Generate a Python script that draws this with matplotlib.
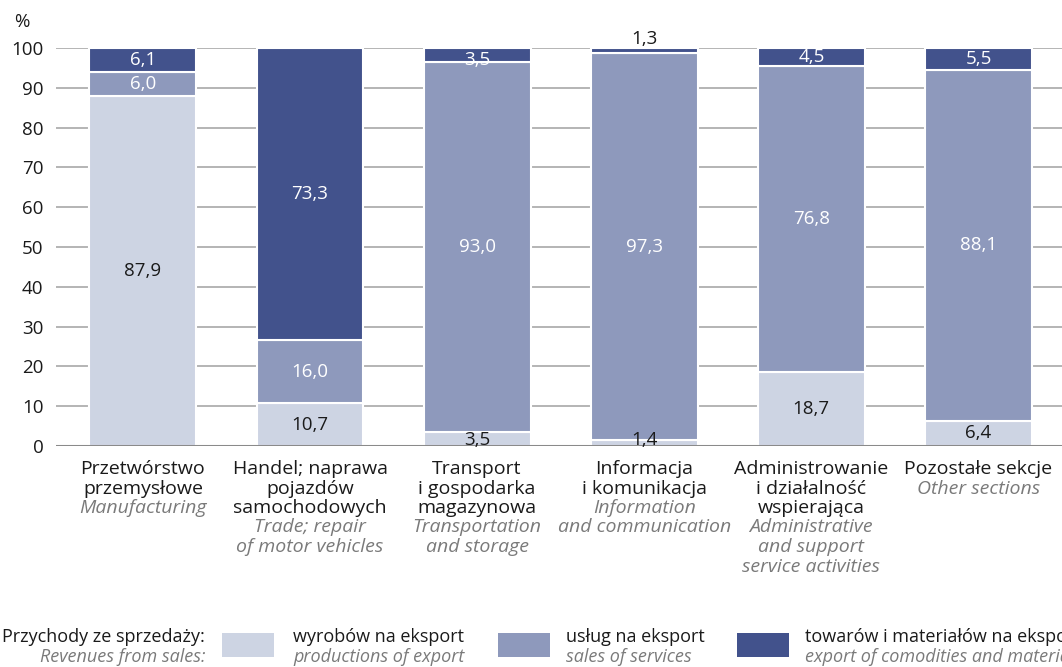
import matplotlib
matplotlib.use("Agg")
import matplotlib.pyplot as plt
from matplotlib.patches import Rectangle
import numpy as np

plt.rcParams['font.family'] = ['Open Sans', 'DejaVu Sans']

categories_pl = ["Przetwórstwo\nprzemysłowe", "Handel; naprawa\npojazdów\nsamochodowych",
                 "Transport\ni gospodarka\nmagazynowa", "Informacja\ni komunikacja",
                 "Administrowanie\ni działalność\nwspierająca", "Pozostałe sekcje"]
categories_en = ["Manufacturing", "Trade; repair\nof motor vehicles",
                 "Transportation\nand storage", "Information\nand communication",
                 "Administrative\nand support\nservice activities", "Other sections"]

products = [87.9, 10.7, 3.5, 1.4, 18.7, 6.4]
services = [6.0, 16.0, 93.0, 97.3, 76.8, 88.1]
goods = [6.1, 73.3, 3.5, 1.3, 4.5, 5.5]

yticks = [0, 10, 20, 30, 40, 50, 60, 70, 80, 90, 100]

series_pl = ["wyrobów na eksport", "usług na eksport", "towarów i materiałów na eksport"]
series_en = ["productions of export", "sales of services", "export of comodities and materials"]
legend_title_pl = "Przychody ze sprzedaży:"
legend_title_en = "Revenues from sales:"

c_light = "#CDD4E3"
c_mid = "#8E99BC"
c_dark = "#42528C"
colors = [c_light, c_mid, c_dark]

W, H = 1062, 667
fig = plt.figure(figsize=(W / 100, H / 100), dpi=100)
ax_left, ax_right, ax_bottom, ax_top = 56, 1062, 446, 48
ax = fig.add_axes([ax_left / W, 1 - ax_bottom / H, (ax_right - ax_left) / W, (ax_bottom - ax_top) / H])

x = np.arange(len(products))
bw = 0.64
ax.set_xlim(-0.52, 5.50)
ax.set_ylim(0, 100)

for y in yticks[1:]:
    ax.axhline(y, color="#A8A8A8", lw=1.2, zorder=0)

bottoms = np.zeros(len(products))
for vals, col in zip([products, services, goods], colors):
    ax.bar(x, vals, bw, bottom=bottoms, color=col, edgecolor="white", linewidth=1.5, zorder=2)
    bottoms = bottoms + np.array(vals)

def fmt(v):
    return f"{v:.1f}".replace(".", ",")

fs_val = 13.5
b = np.zeros(len(products))
for si, vals in enumerate([products, services, goods]):
    for i, v in enumerate(vals):
        yc = b[i] + v / 2
        col = "#1a1a1a" if si == 0 else "white"
        if si == 2 and v < 2:
            yc = 102.3
            col = "#1a1a1a"
        elif si == 2 and v < 4:
            yc = b[i] + v / 2 - 1.2
        if si == 0 and v < 4:
            yc = 1.4
        ax.text(i, yc, fmt(v), ha="center", va="center", fontsize=fs_val, color=col, zorder=5, clip_on=False)
    b = b + np.array(vals)

ax.axhline(0, color="#8A8A8A", lw=2.2, zorder=3)

ax.set_yticks(yticks)
ax.set_yticklabels([str(t) for t in yticks], fontsize=13.5, color="#1a1a1a")
ax.tick_params(axis="y", length=0, pad=9)
ax.set_xticks([])
for s in ax.spines.values():
    s.set_visible(False)

fig.text(14 / W, 1 - 22 / H, "%", fontsize=13.5, ha="left", va="center", color="#1a1a1a")

# category labels
line_h = 19.5
first = 469
for i in range(len(categories_pl)):
    k = 0
    for line in categories_pl[i].split("\n"):
        ax.annotate(line, xy=(i, 0), xycoords=("data", "axes fraction"),
                    xytext=(0, -(first + k * line_h - ax_bottom)), textcoords="offset pixels",
                    ha="center", va="center", fontsize=14, color="#1a1a1a", annotation_clip=False)
        k += 1
    for line in categories_en[i].split("\n"):
        ax.annotate(line, xy=(i, 0), xycoords=("data", "axes fraction"),
                    xytext=(0, -(first + k * line_h - ax_bottom)), textcoords="offset pixels",
                    ha="center", va="center", fontsize=14, color="#7a7a7a", style="italic",
                    annotation_clip=False)
        k += 1

# legend
row1, row2 = 637, 657
fs_leg = 13
fig.text(205 / W, 1 - row1 / H, legend_title_pl, ha="right", va="center", fontsize=fs_leg, color="#1a1a1a")
fig.text(205 / W, 1 - row2 / H, legend_title_en, ha="right", va="center", fontsize=fs_leg,
         color="#7a7a7a", style="italic")
patch_x = [222, 498, 737]
text_x = [293, 566, 805]
for px, tx, col, lp, le in zip(patch_x, text_x, colors, series_pl, series_en):
    fig.add_artist(Rectangle((px / W, 1 - 657 / H), 52 / W, 24 / H, transform=fig.transFigure,
                             facecolor=col, edgecolor="none"))
    fig.text(tx / W, 1 - row1 / H, lp, ha="left", va="center", fontsize=fs_leg, color="#1a1a1a")
    fig.text(tx / W, 1 - row2 / H, le, ha="left", va="center", fontsize=fs_leg, color="#7a7a7a", style="italic")

fig.savefig("out.png", dpi=100)
